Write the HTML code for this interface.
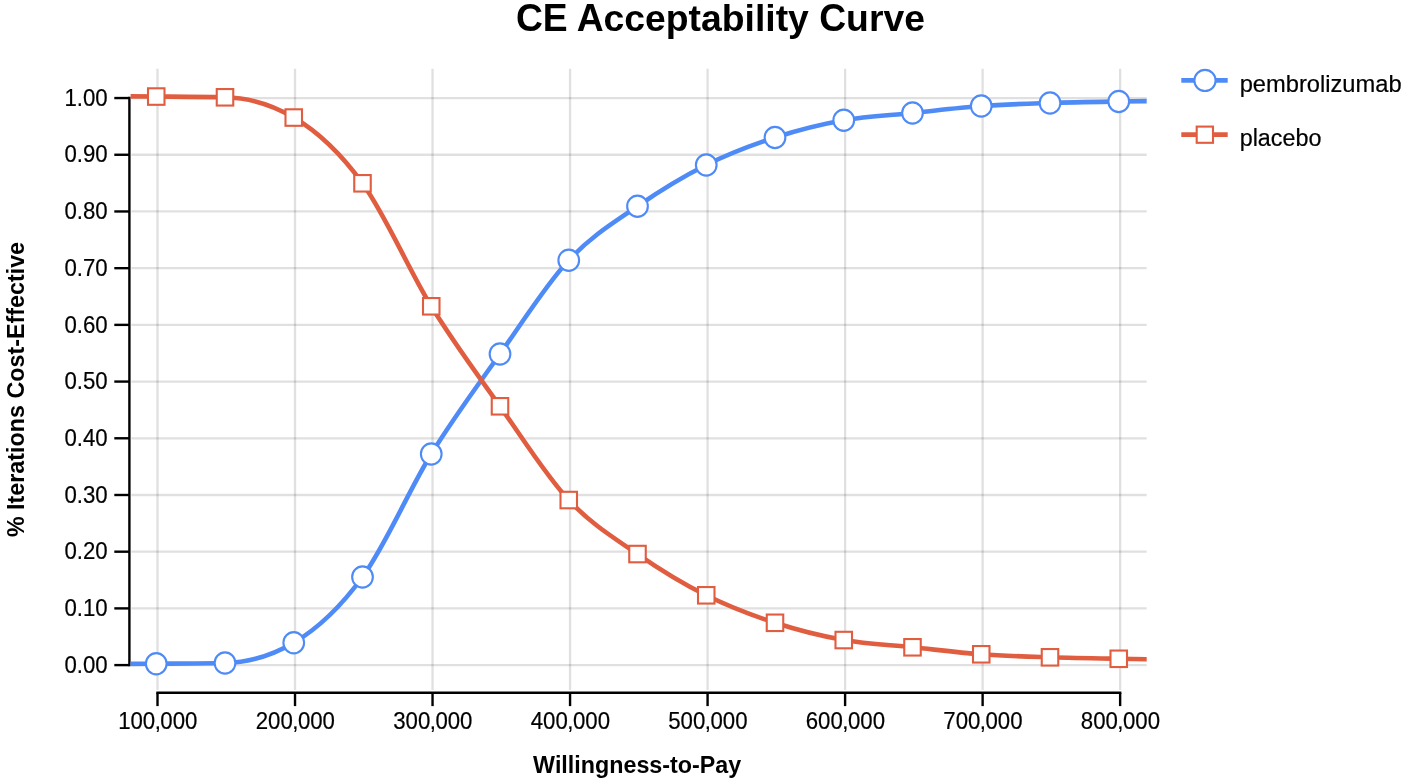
<!DOCTYPE html>
<html><head><meta charset="utf-8"><title>CE Acceptability Curve</title>
<style>html,body{margin:0;padding:0;background:#fff;}body{width:1403px;height:784px;overflow:hidden;font-family:"Liberation Sans",sans-serif;}svg{display:block;will-change:transform;}</style>
</head><body>
<svg width="1403" height="784" viewBox="0 0 1403 784">
<defs><clipPath id="c"><rect x="130.60" y="0" width="1016.10" height="784"/></clipPath></defs>
<rect width="1403" height="784" fill="#fff"/>
<g stroke="rgba(0,0,0,0.12)" stroke-width="2.3" fill="none"><line x1="157.50" y1="68.80" x2="157.50" y2="690.00"/><line x1="295.02" y1="68.80" x2="295.02" y2="690.00"/><line x1="432.54" y1="68.80" x2="432.54" y2="690.00"/><line x1="570.06" y1="68.80" x2="570.06" y2="690.00"/><line x1="707.58" y1="68.80" x2="707.58" y2="690.00"/><line x1="845.10" y1="68.80" x2="845.10" y2="690.00"/><line x1="982.62" y1="68.80" x2="982.62" y2="690.00"/><line x1="1120.14" y1="68.80" x2="1120.14" y2="690.00"/><line x1="131.40" y1="665.10" x2="1146.70" y2="665.10"/><line x1="131.40" y1="608.39" x2="1146.70" y2="608.39"/><line x1="131.40" y1="551.69" x2="1146.70" y2="551.69"/><line x1="131.40" y1="494.99" x2="1146.70" y2="494.99"/><line x1="131.40" y1="438.28" x2="1146.70" y2="438.28"/><line x1="131.40" y1="381.58" x2="1146.70" y2="381.58"/><line x1="131.40" y1="324.87" x2="1146.70" y2="324.87"/><line x1="131.40" y1="268.17" x2="1146.70" y2="268.17"/><line x1="131.40" y1="211.46" x2="1146.70" y2="211.46"/><line x1="131.40" y1="154.76" x2="1146.70" y2="154.76"/><line x1="131.40" y1="98.05" x2="1146.70" y2="98.05"/></g>
<g stroke="#000" stroke-width="2.4" fill="none"><path d="M129.40,96.85V666.30"/><path d="M114.30,665.10H129.40"/><path d="M114.30,608.39H129.40"/><path d="M114.30,551.69H129.40"/><path d="M114.30,494.99H129.40"/><path d="M114.30,438.28H129.40"/><path d="M114.30,381.58H129.40"/><path d="M114.30,324.87H129.40"/><path d="M114.30,268.17H129.40"/><path d="M114.30,211.46H129.40"/><path d="M114.30,154.76H129.40"/><path d="M114.30,98.05H129.40"/><path d="M156.30,692.80H1121.34"/><path d="M157.50,692.80V706.10"/><path d="M295.02,692.80V706.10"/><path d="M432.54,692.80V706.10"/><path d="M570.06,692.80V706.10"/><path d="M707.58,692.80V706.10"/><path d="M845.10,692.80V706.10"/><path d="M982.62,692.80V706.10"/><path d="M1120.14,692.80V706.10"/></g>
<g clip-path="url(#c)" fill="none" stroke-width="4.6" stroke-linejoin="round">
<path d="M87.50,664.10C110.42,664.02,133.33,663.93,156.25,663.75C179.17,663.57,202.08,663.50,225.00,663.00C247.92,662.50,270.83,656.25,293.75,642.75C316.67,629.25,339.58,608.46,362.50,577.00C385.42,545.54,408.33,491.17,431.25,454.00C454.17,416.83,477.08,386.29,500.00,354.00C522.92,321.71,545.83,284.88,568.75,260.25C591.67,235.62,614.58,222.12,637.50,206.25C660.42,190.38,683.33,176.46,706.25,165.00C729.17,153.54,752.08,144.96,775.00,137.50C797.92,130.04,820.83,124.33,843.75,120.25C866.67,116.17,889.58,115.38,912.50,113.00C935.42,110.62,958.33,107.67,981.25,106.00C1004.17,104.33,1027.08,103.75,1050.00,103.00C1072.92,102.25,1095.83,101.90,1118.75,101.50C1141.67,101.10,1164.58,100.85,1187.50,100.60" stroke="#4f8bf7"/>
<path d="M87.50,96.20C110.42,96.28,133.33,96.37,156.25,96.55C179.17,96.73,202.08,96.80,225.00,97.30C247.92,97.80,270.83,104.05,293.75,117.55C316.67,131.05,339.58,151.84,362.50,183.30C385.42,214.76,408.33,269.13,431.25,306.30C454.17,343.47,477.08,374.01,500.00,406.30C522.92,438.59,545.83,475.42,568.75,500.05C591.67,524.67,614.58,538.17,637.50,554.05C660.42,569.92,683.33,583.84,706.25,595.30C729.17,606.76,752.08,615.34,775.00,622.80C797.92,630.26,820.83,635.97,843.75,640.05C866.67,644.13,889.58,644.92,912.50,647.30C935.42,649.67,958.33,652.63,981.25,654.30C1004.17,655.97,1027.08,656.55,1050.00,657.30C1072.92,658.05,1095.83,658.40,1118.75,658.80C1141.67,659.20,1164.58,659.45,1187.50,659.70" stroke="#e05d40"/>
</g>
<g fill="#fff" stroke="#4f8bf7" stroke-width="2.1"><ellipse cx="156.25" cy="663.75" rx="10.35" ry="10.6"/><ellipse cx="225.00" cy="663.00" rx="10.35" ry="10.6"/><ellipse cx="293.75" cy="642.75" rx="10.35" ry="10.6"/><ellipse cx="362.50" cy="577.00" rx="10.35" ry="10.6"/><ellipse cx="431.25" cy="454.00" rx="10.35" ry="10.6"/><ellipse cx="500.00" cy="354.00" rx="10.35" ry="10.6"/><ellipse cx="568.75" cy="260.25" rx="10.35" ry="10.6"/><ellipse cx="637.50" cy="206.25" rx="10.35" ry="10.6"/><ellipse cx="706.25" cy="165.00" rx="10.35" ry="10.6"/><ellipse cx="775.00" cy="137.50" rx="10.35" ry="10.6"/><ellipse cx="843.75" cy="120.25" rx="10.35" ry="10.6"/><ellipse cx="912.50" cy="113.00" rx="10.35" ry="10.6"/><ellipse cx="981.25" cy="106.00" rx="10.35" ry="10.6"/><ellipse cx="1050.00" cy="103.00" rx="10.35" ry="10.6"/><ellipse cx="1118.75" cy="101.50" rx="10.35" ry="10.6"/></g>
<g fill="#fff" stroke="#e05d40" stroke-width="2.1"><rect x="148.00" y="88.30" width="16.5" height="16.5"/><rect x="216.75" y="89.05" width="16.5" height="16.5"/><rect x="285.50" y="109.30" width="16.5" height="16.5"/><rect x="354.25" y="175.05" width="16.5" height="16.5"/><rect x="423.00" y="298.05" width="16.5" height="16.5"/><rect x="491.75" y="398.05" width="16.5" height="16.5"/><rect x="560.50" y="491.80" width="16.5" height="16.5"/><rect x="629.25" y="545.80" width="16.5" height="16.5"/><rect x="698.00" y="587.05" width="16.5" height="16.5"/><rect x="766.75" y="614.55" width="16.5" height="16.5"/><rect x="835.50" y="631.80" width="16.5" height="16.5"/><rect x="904.25" y="639.05" width="16.5" height="16.5"/><rect x="973.00" y="646.05" width="16.5" height="16.5"/><rect x="1041.75" y="649.05" width="16.5" height="16.5"/><rect x="1110.50" y="650.55" width="16.5" height="16.5"/></g>
<path d="M1181.3,80.4H1227.7" stroke="#4f8bf7" stroke-width="4.6"/>
<ellipse cx="1205.0" cy="80.45" rx="10.6" ry="10.6" fill="#fff" stroke="#4f8bf7" stroke-width="2.1"/>
<path d="M1181.3,134.6H1227.7" stroke="#e05d40" stroke-width="4.6"/>
<rect x="1196.7" y="126.6" width="16.3" height="16.2" fill="#fff" stroke="#e05d40" stroke-width="2.1"/>
<g font-family="'Liberation Sans', sans-serif" fill="#000">
<g font-size="23.7" stroke="#000" stroke-width="0.2">
<text x="1239.7" y="91.6">pembrolizumab</text>
<text transform="translate(1239.7,146) scale(0.985,1)">placebo</text>
</g>
<g font-size="23.9" stroke="#000" stroke-width="0.2">
<text transform="translate(107.70,672.80) scale(0.93,1)" text-anchor="end">0.00</text>
<text transform="translate(107.70,616.10) scale(0.93,1)" text-anchor="end">0.10</text>
<text transform="translate(107.70,559.39) scale(0.93,1)" text-anchor="end">0.20</text>
<text transform="translate(107.70,502.69) scale(0.93,1)" text-anchor="end">0.30</text>
<text transform="translate(107.70,445.98) scale(0.93,1)" text-anchor="end">0.40</text>
<text transform="translate(107.70,389.28) scale(0.93,1)" text-anchor="end">0.50</text>
<text transform="translate(107.70,332.57) scale(0.93,1)" text-anchor="end">0.60</text>
<text transform="translate(107.70,275.87) scale(0.93,1)" text-anchor="end">0.70</text>
<text transform="translate(107.70,219.16) scale(0.93,1)" text-anchor="end">0.80</text>
<text transform="translate(107.70,162.46) scale(0.93,1)" text-anchor="end">0.90</text>
<text transform="translate(107.70,105.75) scale(0.93,1)" text-anchor="end">1.00</text>
<text transform="translate(157.80,729.20) scale(0.93,1)" text-anchor="middle">100<tspan dx="-0.55">,</tspan><tspan dx="-0.55">000</tspan></text>
<text transform="translate(295.32,729.20) scale(0.93,1)" text-anchor="middle">200<tspan dx="-0.55">,</tspan><tspan dx="-0.55">000</tspan></text>
<text transform="translate(432.84,729.20) scale(0.93,1)" text-anchor="middle">300<tspan dx="-0.55">,</tspan><tspan dx="-0.55">000</tspan></text>
<text transform="translate(570.36,729.20) scale(0.93,1)" text-anchor="middle">400<tspan dx="-0.55">,</tspan><tspan dx="-0.55">000</tspan></text>
<text transform="translate(707.88,729.20) scale(0.93,1)" text-anchor="middle">500<tspan dx="-0.55">,</tspan><tspan dx="-0.55">000</tspan></text>
<text transform="translate(845.40,729.20) scale(0.93,1)" text-anchor="middle">600<tspan dx="-0.55">,</tspan><tspan dx="-0.55">000</tspan></text>
<text transform="translate(982.92,729.20) scale(0.93,1)" text-anchor="middle">700<tspan dx="-0.55">,</tspan><tspan dx="-0.55">000</tspan></text>
<text transform="translate(1120.44,729.20) scale(0.93,1)" text-anchor="middle">800<tspan dx="-0.55">,</tspan><tspan dx="-0.55">000</tspan></text>
</g>
<g font-weight="bold">
<text transform="translate(515.89,30.50) scale(1,1.0405)" font-size="37.3">CE</text><text transform="translate(576.67,30.50) scale(1,1.0405)" font-size="37.3">A</text><text x="603.61" y="30.50" font-size="37.3">cceptability</text><text transform="translate(819.17,30.50) scale(1,1.0405)" font-size="37.3">C</text><text x="846.11" y="30.50" font-size="37.3">urve</text>
<text transform="translate(533.10,772.70) scale(1,1.0405)" font-size="23.3">W</text><text x="554.88" y="772.70" font-size="23.3">illingness-to-</text><text transform="translate(699.83,772.70) scale(1,1.0405)" font-size="23.3">P</text><text x="715.36" y="772.70" font-size="23.3">ay</text>
<g transform="translate(24.2,389.5) rotate(-90)"><text x="-147.59" y="0.00" font-size="23.3">%</text><text transform="translate(-120.41,0.00) scale(1,1.0405)" font-size="23.3">I</text><text x="-113.93" y="0.00" font-size="23.3">terations</text><text transform="translate(-9.07,0.00) scale(1,1.0405)" font-size="23.3">C</text><text x="7.74" y="0.00" font-size="23.3">ost-</text><text transform="translate(50.45,0.00) scale(1,1.0405)" font-size="23.3">E</text><text x="65.99" y="0.00" font-size="23.3">ffective</text></g>
</g></g>
</svg>
</body></html>
